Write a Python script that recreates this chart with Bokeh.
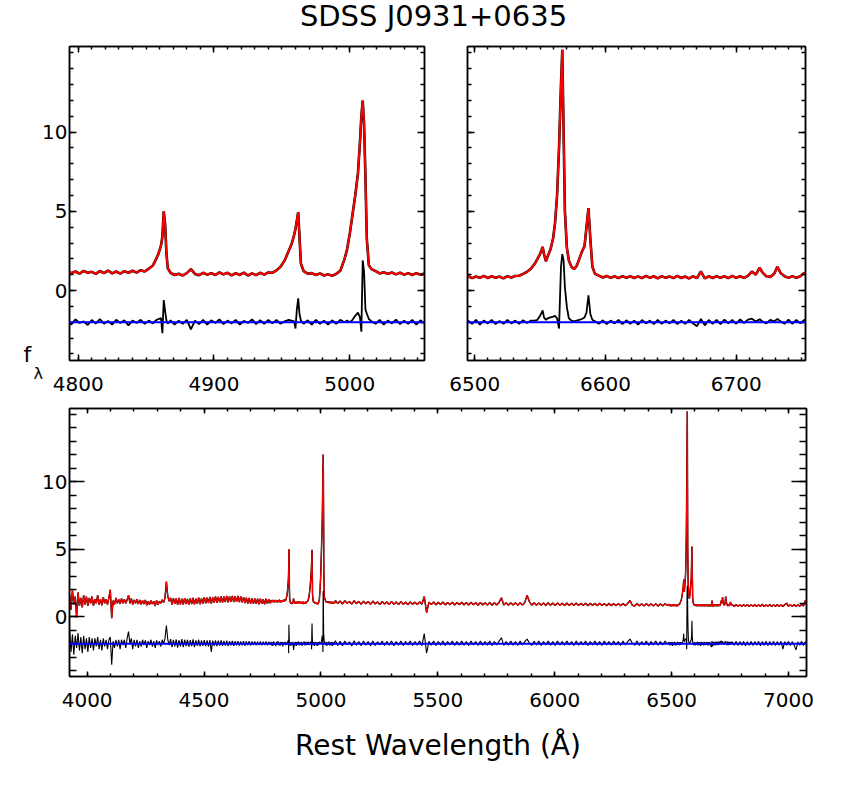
import numpy as np
from bokeh.plotting import figure
from bokeh.models import FixedTicker, LinearAxis, Range1d, Span, Label
from bokeh.layouts import column, row
from bokeh.embed import file_html
from bokeh.resources import INLINE

FONT = "DejaVu Sans"

# ---------------- data ----------------
TITLE = "SDSS J0931+0635"
XLABEL = "Rest Wavelength (Å)"

# segment A: 3925-4783 A, 6 A sampling
wave_a = np.arange(3925, 4784, 6)
flux_a = [
    1.6, 0.5, 2.0, 0.9, 1.5, -0.05, 1.8, 0.8, 1.4, 0.7, 1.6, 0.9,
    1.5, 0.8, 1.4, 1.0, 1.5, 0.8, 1.3, 1.0, 1.6, 0.9, 1.3, 0.85,
    1.45, 1.0, 1.3, 0.9, 1.4, 2.0, -0.1, 1.2, 0.9, 1.4, 1.0, 1.3,
    0.95, 1.35, 1.0, 1.3, 1.0, 1.25, 1.6, 1.0, 1.35, 0.9, 1.25, 1.0,
    1.3, 0.95, 1.25, 0.9, 1.2, 0.95, 1.25, 0.85, 1.15, 0.9, 1.2, 0.95,
    1.15, 0.8, 1.2, 0.9, 1.15, 1.0, 1.25, 1.05, 1.4, 2.6, 1.5, 1.15,
    1.4, 0.9, 1.38, 0.95, 1.35, 0.88, 1.4, 0.92, 1.33, 0.9, 1.38, 0.95,
    1.32, 0.9, 1.36, 0.94, 1.4, 0.92, 1.34, 0.96, 1.42, 0.93, 1.35, 0.98,
    1.45, 1.0, 1.42, 1.02, 1.46, 0.98, 1.44, 1.05, 1.5, 1.03, 1.47, 1.06,
    1.52, 1.05, 1.5, 1.08, 1.55, 1.06, 1.5, 1.1, 1.55, 1.08, 1.52, 1.1,
    1.55, 1.08, 1.5, 1.06, 1.45, 1.02, 1.42, 0.98, 1.4, 0.97, 1.36, 0.95,
    1.35, 0.96, 1.33, 0.93, 1.34, 0.96, 1.3, 0.93, 1.33, 0.97, 1.3, 1.0,
]
resid_a = [
    -1.0, -2.6, -1.3, -2.8, -1.4, -2.3, -1.2, -2.5, -1.5, -2.7, -1.4, -2.4,
    -1.6, -2.6, -1.5, -2.3, -1.6, -2.5, -1.6, -2.2, -1.5, -2.4, -1.7, -2.5,
    -1.6, -2.2, -1.7, -2.4, -1.7, -1.5, -3.55, -1.8, -2.3, -1.7, -2.2, -1.7,
    -2.4, -1.7, -2.1, -1.7, -2.3, -1.6, -1.1, -2.0, -1.6, -2.4, -1.7, -2.2,
    -1.7, -2.3, -1.8, -2.2, -1.7, -2.1, -1.75, -2.3, -1.8, -2.1, -1.7, -2.2,
    -1.8, -2.3, -1.75, -2.1, -1.8, -2.2, -1.7, -2.0, -1.6, -0.65, -1.7, -2.1,
    -1.65, -2.25, -1.7, -2.2, -1.68, -2.28, -1.72, -2.2, -1.66, -2.25, -1.7, -2.18,
    -1.7, -2.22, -1.72, -2.18, -1.68, -2.25, -1.74, -2.15, -1.7, -2.2, -1.74, -2.16,
    -1.72, -2.18, -1.75, -2.2, -1.72, -2.6, -1.76, -2.15, -1.74, -2.18, -1.76, -2.14,
    -1.75, -2.16, -1.78, -2.14, -1.76, -2.18, -1.8, -2.12, -1.78, -2.15, -1.8, -2.12,
    -1.8, -2.14, -1.82, -2.12, -1.8, -2.15, -1.82, -2.1, -1.8, -2.14, -1.82, -2.1,
    -1.82, -2.12, -1.84, -2.1, -1.82, -2.12, -1.84, -2.1, -1.82, -2.12, -1.85, -2.08,
]

# segment B: H-beta / [OIII] region (wavelength, flux, residual)
hbeta_region = [
    (4786, 1.22, -1.85), (4789, 1.08, -2.12), (4792, 1.25, -1.9), (4795, 1.1, -2.15),
    (4798, 1.2, -1.82), (4801, 1.06, -2.05), (4804, 1.24, -1.95), (4807, 1.12, -2.18),
    (4810, 1.18, -1.86), (4813, 1.05, -2.08), (4816, 1.23, -1.8), (4819, 1.1, -2.1),
    (4822, 1.26, -1.92), (4825, 1.08, -2.15), (4828, 1.2, -1.85), (4831, 1.07, -2.05),
    (4834, 1.22, -1.88), (4837, 1.12, -2.2), (4840, 1.25, -1.9), (4843, 1.13, -2.05),
    (4846, 1.28, -1.85), (4849, 1.2, -2.1), (4852, 1.38, -1.9), (4855, 1.58, -2.08),
    (4857, 1.92, -1.9), (4859, 2.3, -1.8), (4861, 2.85, -1.75), (4862, 3.4, -2.7),
    (4863, 5.0, -0.6), (4864, 4.2, -1.3), (4865, 2.3, -1.9), (4866, 1.4, -2.1),
    (4868, 1.12, -1.88), (4871, 0.98, -2.15), (4874, 1.06, -1.9), (4877, 0.95, -2.1),
    (4880, 1.1, -1.85), (4883, 1.35, -2.45), (4886, 1.05, -1.9), (4889, 0.97, -2.12),
    (4892, 1.12, -1.85), (4895, 1.0, -2.15), (4898, 1.1, -1.88), (4901, 0.98, -2.05),
    (4904, 1.14, -1.82), (4907, 1.02, -2.12), (4910, 1.12, -1.9), (4913, 0.96, -2.08),
    (4916, 1.1, -1.85), (4919, 0.98, -2.15), (4922, 1.13, -1.92), (4925, 0.95, -2.05),
    (4928, 1.08, -1.82), (4931, 0.97, -2.12), (4934, 1.12, -1.88), (4937, 1.0, -2.1),
    (4940, 1.14, -1.85), (4943, 1.12, -2.08), (4946, 1.27, -1.85), (4949, 1.5, -2.1),
    (4952, 1.9, -1.95), (4955, 2.5, -1.85), (4957, 2.9, -1.9), (4959, 3.5, -1.95),
    (4960, 3.9, -2.4), (4961, 4.4, -1.2), (4962, 4.95, -0.5), (4963, 3.3, -1.5),
    (4964, 1.7, -1.9), (4966, 1.22, -2.1), (4969, 1.06, -1.88), (4972, 1.1, -2.15),
    (4975, 0.98, -1.85), (4978, 1.08, -2.1), (4981, 0.95, -1.9), (4984, 1.02, -2.15),
    (4987, 0.93, -1.88), (4990, 1.05, -2.1), (4993, 1.25, -1.85), (4996, 1.95, -2.0),
    (4998, 2.6, -1.9), (5000, 3.6, -2.0), (5002, 4.8, -1.85), (5004, 6.0, -1.6),
    (5006, 7.4, -1.4), (5007.5, 9.4, -1.7), (5008.5, 11.0, -2.6), (5009.5, 12.0, 1.9),
    (5010.5, 10.5, 1.2), (5011.5, 7.2, -1.2), (5012.5, 3.3, -1.45), (5014, 1.6, -1.8),
    (5016, 1.35, -1.95), (5019, 1.22, -2.1), (5022, 1.08, -1.85), (5025, 1.15, -2.15),
    (5028, 1.05, -1.9), (5031, 1.14, -2.08), (5034, 1.02, -1.84), (5037, 1.12, -2.12),
    (5040, 1.0, -1.9), (5043, 1.1, -2.1), (5046, 0.98, -1.85), (5049, 1.1, -2.15),
    (5052, 0.99, -1.88), (5055, 1.08, -2.08), (5058, 1.0, -1.92),
]
wave_b, flux_b, resid_b = map(list, zip(*hbeta_region))

# segment C: 5062-6482 A, 10 A sampling
wave_c = np.arange(5062, 6483, 10)
flux_c = [
    1.2, 0.98, 1.16, 0.95, 1.18, 1.0, 1.12, 0.94, 1.19, 0.97, 1.14,
    0.93, 1.15, 0.96, 1.12, 0.92, 1.16, 0.95, 1.1, 0.9, 1.13, 0.94,
    1.1, 0.9, 1.14, 0.93, 1.09, 0.9, 1.12, 0.92, 1.08, 0.89, 1.1,
    0.92, 1.08, 0.9, 1.1, 0.93, 1.5, 0.3, 1.08, 0.9, 1.1, 0.88,
    1.07, 0.9, 1.09, 0.88, 1.06, 0.89, 1.08, 0.87, 1.05, 0.9, 1.07,
    0.88, 1.05, 0.87, 1.07, 0.89, 1.04, 0.86, 1.06, 0.88, 1.03, 0.87,
    1.05, 0.86, 1.04, 0.88, 1.06, 1.4, 0.87, 1.04, 0.86, 1.03, 0.87,
    1.04, 0.85, 1.03, 0.87, 1.05, 1.6, 1.1, 0.86, 1.03, 0.85, 1.02,
    0.86, 1.02, 0.84, 1.03, 0.86, 1.01, 0.84, 1.02, 0.85, 1.0, 0.84,
    1.01, 0.83, 1.0, 0.85, 1.01, 0.83, 0.99, 0.84, 1.0, 0.82, 0.99,
    0.83, 0.99, 0.82, 1.0, 0.83, 0.98, 0.81, 0.99, 0.82, 0.97, 0.82,
    0.98, 0.81, 0.97, 0.82, 0.98, 1.2, 0.85, 0.8, 0.97, 0.81, 0.96,
    0.8, 0.97, 0.81, 0.95, 0.8, 0.96, 0.79, 0.95, 0.81, 0.96, 0.85,
]
resid_c = [
    -1.78, -2.12, -1.82, -2.15, -1.8, -2.08, -1.85, -2.16, -1.78, -2.1, -1.84,
    -2.14, -1.8, -2.1, -1.83, -2.15, -1.79, -2.12, -1.85, -2.08, -1.8, -2.13,
    -1.84, -2.1, -1.8, -2.14, -1.83, -2.1, -1.8, -2.12, -1.84, -2.08, -1.8,
    -2.12, -1.84, -2.1, -1.8, -2.13, -1.25, -2.7, -1.82, -2.1, -1.8, -2.12,
    -1.84, -2.1, -1.8, -2.12, -1.84, -2.08, -1.8, -2.12, -1.83, -2.1, -1.8,
    -2.1, -1.84, -2.12, -1.8, -2.08, -1.84, -2.12, -1.8, -2.1, -1.84, -2.1,
    -1.8, -2.12, -1.84, -2.08, -1.8, -1.55, -2.12, -1.84, -2.1, -1.8, -2.1,
    -1.84, -2.12, -1.8, -2.08, -1.84, -1.65, -1.95, -2.12, -1.82, -2.08, -1.8,
    -2.12, -1.84, -2.08, -1.8, -2.1, -1.84, -2.12, -1.8, -2.08, -1.84, -2.1,
    -1.8, -2.08, -1.84, -2.12, -1.8, -2.1, -1.84, -2.08, -1.8, -2.12, -1.84,
    -2.08, -1.8, -2.1, -1.84, -2.12, -1.8, -2.08, -1.84, -2.1, -1.8, -2.08,
    -1.84, -2.12, -1.8, -2.08, -1.84, -1.65, -1.95, -2.1, -1.8, -2.12, -1.84,
    -2.08, -1.8, -2.12, -1.84, -2.08, -1.8, -2.1, -1.84, -2.08, -1.8, -2.0,
]

# segment D: H-alpha / [NII] / [SII] region (wavelength, flux, residual)
halpha_region = [
    (6489, 0.92, -1.88), (6492, 0.8, -2.12), (6495, 0.9, -1.9), (6498, 0.78, -2.1),
    (6501, 0.88, -1.85), (6504, 0.8, -2.15), (6507, 0.92, -1.9), (6510, 0.79, -2.08),
    (6513, 0.9, -1.86), (6516, 0.8, -2.12), (6519, 0.88, -1.92), (6522, 0.77, -2.1),
    (6525, 0.9, -1.85), (6528, 0.82, -2.08), (6531, 0.92, -1.9), (6534, 0.93, -2.1),
    (6537, 1.05, -1.88), (6540, 1.18, -2.05), (6543, 1.38, -1.9), (6546, 1.7, -1.9),
    (6548, 2.0, -1.85), (6550, 2.3, -1.6), (6552, 2.75, -1.25), (6553, 2.3, -1.7),
    (6554.5, 1.85, -1.85), (6556, 2.2, -1.75), (6558, 2.6, -1.7), (6560, 3.3, -1.65),
    (6561.5, 4.3, -1.6), (6563, 6.0, -1.75), (6564.5, 9.0, -2.4), (6566, 13.0, 1.5),
    (6567, 15.2, 2.3), (6568, 10.0, 1.9), (6569, 5.0, 0.2), (6570.5, 2.7, -1.05),
    (6572, 1.9, -1.75), (6574, 1.5, -1.9), (6576, 1.35, -1.95), (6578, 1.55, -1.9),
    (6580, 2.0, -1.85), (6582, 2.45, -1.8), (6584, 2.8, -1.7), (6585.5, 4.0, -1.4),
    (6587, 5.2, -0.3), (6588.5, 3.2, -1.5), (6590, 1.5, -1.85), (6592, 1.05, -1.95),
    (6595, 0.94, -2.1), (6598, 0.82, -1.88), (6601, 0.92, -2.12), (6604, 0.8, -1.9),
    (6607, 0.9, -2.08), (6610, 0.78, -1.85), (6613, 0.91, -2.12), (6616, 0.81, -1.88),
    (6619, 0.9, -2.1), (6622, 0.79, -1.9), (6625, 0.89, -2.15), (6628, 0.78, -1.86),
    (6631, 0.92, -2.08), (6634, 0.8, -1.9), (6637, 0.9, -2.12), (6640, 0.77, -1.85),
    (6643, 0.91, -2.1), (6646, 0.8, -1.9), (6649, 0.89, -2.08), (6652, 0.78, -1.86),
    (6655, 0.92, -2.12), (6658, 0.79, -1.9), (6661, 0.88, -2.1), (6664, 0.76, -1.85),
    (6667, 0.9, -2.08), (6670, 0.78, -2.25), (6673, 1.2, -1.8), (6676, 0.76, -2.2),
    (6679, 0.9, -1.86), (6682, 0.79, -2.1), (6685, 0.91, -1.85), (6688, 0.8, -2.12),
    (6691, 0.9, -1.84), (6694, 0.78, -2.08), (6697, 0.92, -1.85), (6700, 0.8, -2.1),
    (6703, 0.9, -1.82), (6706, 0.8, -2.05), (6709, 0.92, -1.84), (6712, 1.2, -1.78),
    (6715, 1.0, -1.95), (6718, 1.45, -1.82), (6720, 1.15, -1.95), (6723, 0.9, -2.08),
    (6726, 0.86, -1.85), (6729, 1.05, -1.95), (6731.5, 1.5, -1.8), (6734, 1.1, -1.95),
    (6737, 0.9, -2.1), (6740, 0.8, -1.84), (6743, 0.91, -2.1), (6746, 0.8, -1.86),
    (6749, 0.9, -2.08), (6752, 1.1, -1.85), (6755, 0.88, -1.95),
]
wave_d, flux_d, resid_d = map(list, zip(*halpha_region))

# segment E: 6760-7080 A, 8 A sampling
wave_e = np.arange(6760, 7081, 8)
flux_e = [
    0.88, 0.77, 0.9, 0.78, 0.89, 0.76, 0.9, 0.78, 0.91, 0.76,
    0.89, 0.78, 0.9, 0.76, 0.89, 0.77, 0.92, 0.76, 0.89, 0.78,
    0.9, 0.76, 0.89, 0.77, 0.91, 0.76, 0.89, 0.77, 0.9, 1.0,
    0.77, 0.89, 0.78, 0.9, 0.77, 0.89, 0.78, 0.9, 0.8, 1.2,
    0.9,
]
resid_e = [
    -1.85, -2.1, -1.82, -2.12, -1.84, -2.1, -1.82, -2.14, -1.85, -2.1,
    -1.82, -2.12, -1.84, -2.1, -1.82, -2.14, -1.84, -2.1, -1.82, -2.12,
    -1.84, -2.1, -1.82, -2.12, -1.84, -2.1, -1.82, -2.4, -1.84, -2.1,
    -1.82, -2.12, -1.84, -2.1, -2.45, -1.85, -2.1, -1.82, -2.12, -1.85,
    -2.0,
]

ZERO_LEVEL = -2.0

# axis ranges and ticks
Y_RANGE = (-4.42, 15.41)
Y_MAJOR = [0, 5, 10]
Y_MINOR = [-4, -3, -2, -1, 0, 1, 2, 3, 4, 5, 6, 7, 8, 9, 10, 11, 12, 13, 14, 15]

HB_RANGE = (4793.6, 5055.0)
HB_MAJOR = [4800, 4900, 5000]
HB_MINOR = list(range(4800, 5060, 10))

HA_RANGE = (6494.5, 6753.0)
HA_MAJOR = [6500, 6600, 6700]
HA_MINOR = list(range(6500, 6760, 10))

FULL_RANGE = (3924.5, 7077.0)
FULL_MAJOR = [4000, 4500, 5000, 5500, 6000, 6500, 7000]
FULL_MINOR = list(range(4000, 7080, 100))

wave = np.concatenate([wave_a, wave_b, wave_c, wave_d, wave_e]).astype(float)
flux = np.concatenate([flux_a, flux_b, flux_c, flux_d, flux_e]).astype(float)
resid = np.concatenate([resid_a, resid_b, resid_c, resid_d, resid_e]).astype(float)


def no_frame_align(fig):
    try:
        fig.frame_align = False
    except Exception:
        pass


def style_axis(ax, ticker, show, tick_len, standoff=8):
    ax.ticker = ticker
    ax.major_tick_in = tick_len[0]
    ax.major_tick_out = 0
    ax.minor_tick_in = tick_len[1]
    ax.minor_tick_out = 0
    ax.major_tick_line_width = 1.5
    ax.minor_tick_line_width = 1.5
    ax.major_tick_line_color = "black"
    ax.minor_tick_line_color = "black"
    ax.axis_line_color = "black"
    ax.axis_line_width = 1.5
    if show:
        ax.major_label_text_font = FONT
        ax.major_label_text_font_size = "20px"
        ax.major_label_text_color = "black"
        ax.major_label_standoff = standoff
    else:
        ax.major_label_overrides = {v: "" for v in ticker.ticks}
        ax.major_label_text_font_size = "1px"
        ax.major_label_standoff = 0


def make_panel(xr, fw, fh, xmaj, xmin, show_y, xlen, ylen, borders, lw):
    p = figure(frame_width=fw, frame_height=fh, title=None,
               x_range=Range1d(*xr), y_range=Range1d(*Y_RANGE),
               output_backend="svg", toolbar_location=None,
               x_axis_location=None, y_axis_location=None,
               min_border_left=borders[0], min_border_right=borders[1],
               min_border_top=borders[2], min_border_bottom=borders[3],
               background_fill_color="white", border_fill_color="white")
    no_frame_align(p)
    p.grid.visible = False
    p.outline_line_color = "black"
    p.outline_line_width = 1.5
    xt = FixedTicker(ticks=xmaj, minor_ticks=xmin)
    yt = FixedTicker(ticks=Y_MAJOR, minor_ticks=Y_MINOR)
    b = LinearAxis(); style_axis(b, xt, True, xlen, standoff=16); p.add_layout(b, "below")
    a = LinearAxis(); style_axis(a, xt, False, xlen); p.add_layout(a, "above")
    l = LinearAxis(); style_axis(l, yt, show_y, ylen, standoff=2); p.add_layout(l, "left")
    r = LinearAxis(); style_axis(r, yt, False, ylen); p.add_layout(r, "right")

    p.line(wave, flux, line_color="black", line_width=lw[0])
    p.line(wave, flux, line_color="#ff0000", line_width=lw[1])
    p.line(wave, resid, line_color="black", line_width=lw[2])
    p.add_layout(Span(location=ZERO_LEVEL, dimension="width",
                      line_color="#0000ff", line_width=lw[3]))
    return p, b


# title strip
t = figure(width=850, height=36, x_range=Range1d(0, 850), y_range=Range1d(0, 36),
           title=None, output_backend="svg", toolbar_location=None,
           x_axis_location=None, y_axis_location=None,
           min_border=0, min_border_left=0, min_border_right=0,
           min_border_top=0, min_border_bottom=0, outline_line_color=None)
no_frame_align(t)
t.grid.visible = False
t.add_layout(Label(x=433, y=21, text=TITLE, text_align="center",
                   text_baseline="middle", text_font=FONT,
                   text_font_size="29px", text_color="black"))

p1, _ = make_panel(HB_RANGE, 355, 314, HB_MAJOR, HB_MINOR, True, (6, 3), (7, 4),
                   (69, 20, 10, 38), (2.6, 2.0, 1.8, 2.0))
p2, _ = make_panel(HA_RANGE, 338, 314, HA_MAJOR, HA_MINOR, False, (6, 3), (7, 4),
                   (23, 20, 10, 38), (2.6, 2.0, 1.8, 2.0))
p3, b3 = make_panel(FULL_RANGE, 737, 268, FULL_MAJOR, FULL_MINOR, True, (5, 3), (15, 7),
                    (69, 20, 10, 100), (1.5, 1.1, 1.1, 2.0))
b3.axis_label = XLABEL
b3.axis_label_text_font = FONT
b3.axis_label_text_font_size = "28px"
b3.axis_label_text_font_style = "normal"
b3.axis_label_text_color = "black"
b3.axis_label_standoff = 19

# y label f_lambda, placed in the left side panel of the first plot (not clipped)
p1.add_layout(Label(x=4762.5, y=-4.04, text="f", text_align="center",
                    text_baseline="middle", text_font=FONT, text_font_size="22px",
                    text_color="black"), "left")
p1.add_layout(Label(x=4770.5, y=-5.24, text="λ", text_align="center",
                    text_baseline="middle", text_font=FONT, text_font_size="16px",
                    text_color="black"), "left")

layout = column(t, row(p1, p2), p3)
open("out.html", "w").write(file_html(layout, INLINE, title=TITLE))
